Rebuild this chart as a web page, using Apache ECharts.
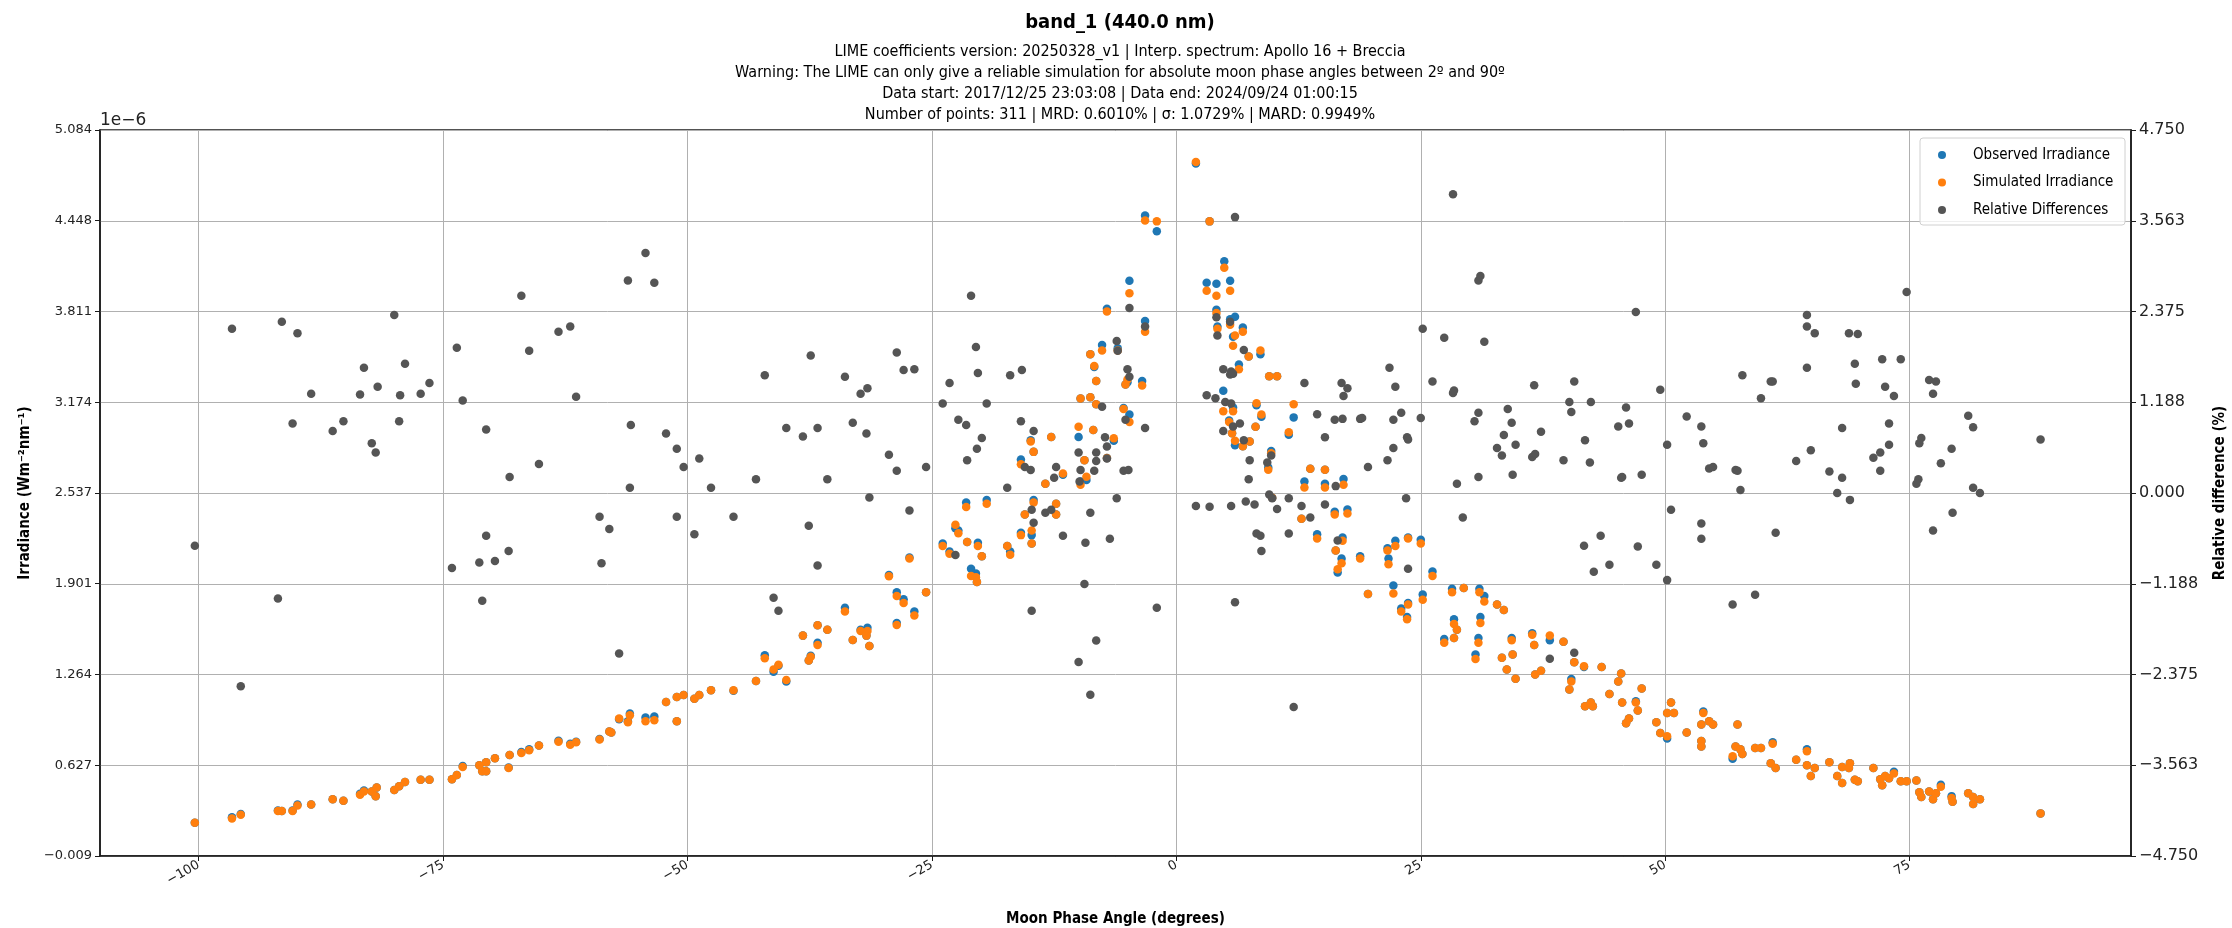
<!DOCTYPE html>
<html>
<head>
<meta charset="utf-8">
<script src="https://cdn.jsdelivr.net/npm/echarts@6/dist/echarts.min.js"></script>
<style>
  html, body { margin: 0; padding: 0; background: #fff; }
  #chart { width: 2232px; height: 928px; }
</style>
</head>
<body>
<div id="chart"></div>
<script>
// irradiance points (x1e-6 W m-2 nm-1)
var phaseAngle = [
  -100.4, -96.6, -95.7, -91.9, -91.5, -90.4, -89.9, -88.5, -86.3, -85.2,
  -83.5, -83.1, -82.3, -81.9, -81.8, -80.0, -79.5, -78.9, -77.3, -76.4,
  -74.1, -73.6, -73.0, -71.3, -71.0, -70.6, -70.6, -69.7, -68.3, -68.2,
  -67.0, -66.2, -65.2, -63.2, -62.0, -61.4, -59.0, -58.0, -57.8, -57.0,
  -56.1, -55.9, -54.3, -53.4, -52.2, -51.1, -51.1, -50.4, -49.3, -48.8,
  -47.6, -45.3, -43.0, -42.1, -41.2, -40.7, -39.9, -38.2, -37.6, -37.4,
  -36.7, -36.7, -35.7, -33.9, -33.1, -32.3, -31.6, -31.7, -31.4, -29.4,
  -28.6, -28.6, -27.9, -26.8, -27.3, -25.6, -23.9, -23.2, -22.6, -22.3,
  -21.5, -21.4, -21.0, -20.5, -20.4, -20.3, -19.9, -19.4, -17.3, -17.0,
  -15.9, -15.5, -14.9, -14.8, -14.8, -14.6, -14.6, -15.9, -13.4, -12.8,
  -12.3, -12.3, -11.6, -10.0, -9.8, -9.8, -9.4, -9.2, -8.8, -8.8,
  -8.5, -8.4, -8.2, -8.2, -7.6, -7.1, -7.1, -6.4, -6.0, -4.8,
  -5.0, -4.8, -5.2, -5.4, -3.2, -2.0, -3.2, -3.5, 2.0, 3.4,
  3.1, 4.1, 4.9, 5.5, 4.1, 4.2, 5.5, 6.0, 6.8, 5.8,
  7.4, 6.4, 8.6, 9.5, 10.3, 4.8, 5.8, 5.4, 5.7, 6.0,
  6.8, 7.5, 8.1, 8.2, 8.7, 9.4, 9.7, 9.8, 11.5, 12.0,
  12.8, 13.1, 13.7, 14.4, 15.2, 15.2, 16.2, 16.3, 16.5, 16.9,
  17.0, 17.1, 17.5, 18.8, 19.6, 21.6, 21.7, 22.4, 22.2, 23.0,
  23.7, 23.6, 23.7, 25.0, 25.2, 26.2, 27.4, 28.2, 28.4, 28.4,
  28.7, 29.4, 31.0, 31.5, 31.1, 30.9, 30.6, 32.8, 33.5, 34.3,
  33.3, 34.4, 33.8, 34.7, 36.4, 36.6, 38.2, 36.7, 37.3, 39.6,
  40.7, 41.7, 43.5, 40.4, 40.2, 41.8, 42.4, 42.6, 44.3, 45.2,
  45.5, 45.6, 46.0, 46.3, 47.0, 47.2, 47.6, 49.1, 49.5, 50.2,
  50.2, 50.6, 50.9, 52.2, 53.7, 53.7, 53.7, 53.9, 54.5, 54.9,
  56.9, 57.4, 57.2, 57.7, 57.9, 59.2, 59.8, 61.0, 60.8, 61.3,
  63.4, 64.5, 64.5, 65.3, 64.9, 66.8, 67.6, 68.1, 68.1, 68.9,
  68.8, 69.4, 69.7, 71.3, 72.0, 72.2, 72.5, 72.9, 73.4, 74.1,
  74.7, 75.7, 76.0, 76.2, 77.0, 77.4, 77.7, 78.2, 79.3, 79.4,
  81.0, 81.5, 81.5, 82.2, 88.4
];
var observed = [
  0.225, 0.262, 0.285, 0.310, 0.307, 0.310, 0.352, 0.352, 0.389, 0.379,
  0.428, 0.450, 0.444, 0.411, 0.471, 0.454, 0.480, 0.510, 0.526, 0.526,
  0.530, 0.559, 0.622, 0.628, 0.585, 0.648, 0.585, 0.677, 0.612, 0.700,
  0.720, 0.740, 0.766, 0.800, 0.779, 0.792, 0.812, 0.864, 0.858, 0.950,
  0.936, 0.990, 0.962, 0.969, 1.071, 1.107, 0.936, 1.120, 1.094, 1.120,
  1.153, 1.150, 1.218, 1.399, 1.284, 1.325, 1.215, 1.537, 1.363, 1.395,
  1.609, 1.487, 1.579, 1.733, 1.507, 1.579, 1.592, 1.537, 1.464, 1.963,
  1.842, 1.625, 1.792, 1.707, 2.085, 1.842, 2.183, 2.127, 2.291, 2.275,
  2.471, 2.193, 2.006, 1.973, 1.914, 2.189, 2.094, 2.488, 2.166, 2.127,
  2.258, 2.386, 2.908, 2.242, 2.183, 2.826, 2.488, 2.773, 2.603, 2.931,
  2.462, 2.386, 2.665, 2.931, 3.200, 2.619, 2.767, 2.629, 3.511, 3.209,
  2.980, 3.422, 3.324, 3.160, 3.576, 3.830, 2.783, 2.904, 3.553, 4.026,
  3.314, 3.088, 3.298, 3.134, 4.485, 4.374, 3.744, 3.324, 4.849, 4.443,
  4.013, 4.006, 4.164, 4.026, 3.823, 3.705, 3.757, 3.774, 3.698, 3.633,
  3.495, 3.439, 3.511, 3.357, 3.357, 3.255, 3.137, 3.046, 2.957, 2.872,
  2.865, 2.898, 3.003, 3.153, 3.072, 2.717, 2.832, 2.504, 2.947, 3.068,
  2.357, 2.619, 2.708, 2.248, 2.603, 2.701, 2.406, 2.134, 1.979, 2.078,
  2.225, 2.635, 2.422, 2.094, 1.829, 2.150, 2.078, 2.202, 1.888, 1.727,
  1.766, 1.668, 2.225, 2.209, 1.825, 1.986, 1.514, 1.865, 1.651, 1.520,
  1.579, 1.871, 1.865, 1.815, 1.668, 1.520, 1.405, 1.756, 1.717, 1.520,
  1.382, 1.405, 1.300, 1.235, 1.553, 1.471, 1.504, 1.264, 1.290, 1.494,
  1.350, 1.317, 1.317, 1.232, 1.159, 1.041, 1.067, 1.041, 1.127, 1.215,
  1.271, 1.067, 0.923, 0.956, 1.077, 1.012, 1.166, 0.930, 0.854, 0.815,
  0.995, 1.067, 0.995, 0.858, 0.913, 0.798, 0.759, 1.005, 0.936, 0.913,
  0.674, 0.913, 0.759, 0.739, 0.707, 0.749, 0.749, 0.789, 0.641, 0.608,
  0.667, 0.739, 0.628, 0.608, 0.553, 0.648, 0.553, 0.503, 0.615, 0.641,
  0.608, 0.526, 0.516, 0.608, 0.530, 0.487, 0.553, 0.536, 0.582, 0.516,
  0.516, 0.520, 0.438, 0.405, 0.444, 0.389, 0.431, 0.490, 0.411, 0.372,
  0.431, 0.356, 0.405, 0.389, 0.290
];
var simulated = [
  0.225, 0.254, 0.280, 0.307, 0.307, 0.307, 0.346, 0.352, 0.389, 0.379,
  0.421, 0.444, 0.444, 0.411, 0.471, 0.454, 0.480, 0.510, 0.526, 0.526,
  0.530, 0.559, 0.615, 0.628, 0.585, 0.648, 0.585, 0.677, 0.608, 0.700,
  0.713, 0.733, 0.766, 0.792, 0.772, 0.789, 0.808, 0.864, 0.858, 0.956,
  0.930, 0.979, 0.936, 0.943, 1.071, 1.107, 0.936, 1.120, 1.094, 1.120,
  1.153, 1.153, 1.218, 1.379, 1.300, 1.333, 1.225, 1.537, 1.363, 1.389,
  1.609, 1.471, 1.579, 1.707, 1.507, 1.569, 1.569, 1.537, 1.464, 1.953,
  1.815, 1.612, 1.766, 1.678, 2.078, 1.842, 2.166, 2.111, 2.314, 2.255,
  2.439, 2.193, 1.956, 1.947, 1.914, 2.166, 2.094, 2.462, 2.166, 2.104,
  2.242, 2.386, 2.898, 2.275, 2.183, 2.826, 2.471, 2.740, 2.603, 2.931,
  2.462, 2.386, 2.675, 3.003, 3.200, 2.596, 2.767, 2.652, 3.511, 3.209,
  2.980, 3.429, 3.324, 3.160, 3.537, 3.810, 2.783, 2.921, 3.537, 3.938,
  3.334, 3.036, 3.298, 3.127, 4.449, 4.443, 3.669, 3.291, 4.859, 4.443,
  3.957, 3.921, 4.118, 3.957, 3.800, 3.690, 3.718, 3.642, 3.669, 3.570,
  3.495, 3.406, 3.537, 3.357, 3.357, 3.111, 3.111, 3.036, 2.957, 2.904,
  2.865, 2.898, 3.003, 3.167, 3.088, 2.701, 2.816, 2.504, 2.963, 3.160,
  2.357, 2.576, 2.708, 2.219, 2.576, 2.701, 2.386, 2.134, 2.002, 2.045,
  2.202, 2.596, 2.393, 2.078, 1.829, 2.134, 2.038, 2.166, 1.832, 1.707,
  1.756, 1.651, 2.219, 2.183, 1.789, 1.956, 1.487, 1.842, 1.619, 1.520,
  1.579, 1.871, 1.842, 1.776, 1.625, 1.487, 1.373, 1.756, 1.717, 1.504,
  1.382, 1.405, 1.300, 1.235, 1.543, 1.471, 1.537, 1.264, 1.290, 1.494,
  1.350, 1.323, 1.317, 1.215, 1.159, 1.041, 1.067, 1.041, 1.127, 1.215,
  1.271, 1.067, 0.923, 0.956, 1.067, 1.012, 1.166, 0.930, 0.854, 0.831,
  0.995, 1.067, 0.995, 0.858, 0.913, 0.798, 0.759, 0.995, 0.936, 0.913,
  0.690, 0.913, 0.759, 0.739, 0.707, 0.749, 0.749, 0.779, 0.641, 0.608,
  0.667, 0.726, 0.628, 0.608, 0.553, 0.648, 0.553, 0.503, 0.615, 0.641,
  0.608, 0.526, 0.516, 0.608, 0.530, 0.487, 0.553, 0.536, 0.569, 0.516,
  0.516, 0.520, 0.438, 0.405, 0.444, 0.389, 0.431, 0.477, 0.398, 0.372,
  0.431, 0.356, 0.405, 0.389, 0.290
];

// relative differences (%) on the right axis
var diffAngle = [
  -96.6, -91.5, -89.9, -88.5, -83.5, -90.4, -86.3, -85.2, -100.4, -91.9,
  -95.7, -83.1, -81.7, -80.0, -78.9, -79.4, -77.3, -76.4, -79.5, -82.3,
  -81.9, -73.6, -73.0, -70.6, -68.2, -65.2, -67.0, -66.2, -63.2, -62.0,
  -61.4, -59.0, -58.0, -58.8, -74.1, -71.3, -70.6, -69.7, -68.3, -71.0,
  -56.1, -54.3, -53.4, -55.8, -55.9, -52.2, -51.1, -50.4, -48.8, -47.6,
  -51.1, -49.3, -45.3, -57.0, -43.0, -42.1, -39.9, -38.2, -37.4, -36.7,
  -35.7, -37.6, -36.7, -41.2, -40.7, -33.9, -33.1, -32.3, -31.6, -31.7,
  -31.4, -29.4, -28.6, -28.6, -27.9, -26.8, -27.3, -25.6, -23.9, -23.2,
  -22.3, -21.5, -21.4, -21.0, -20.5, -20.3, -20.4, -19.9, -19.4, -22.6,
  -17.3, -17.0, -15.8, -15.9, -14.6, -15.5, -14.9, -14.8, -14.6, -13.4,
  -12.8, -12.3, -12.5, -11.6, -14.8, -10.0, -9.8, -9.9, -8.8, -9.3,
  -9.4, -8.2, -10.0, -8.8, -7.6, -7.3, -8.2, -8.2, -8.4, -7.1,
  -7.1, -6.8, -6.1, -6.0, -6.1, -4.8, -5.0, -4.8, -5.2, -5.4,
  -4.9, -3.2, -3.2, -2.0, 6.0, 3.1, 4.0, 4.2, 4.1, 4.8,
  5.5, 5.6, 5.8, 5.5, 5.0, 5.6, 4.8, 5.8, 6.5, 6.9,
  6.9, 7.5, 7.4, 2.0, 3.4, 5.6, 6.0, 7.1, 8.0, 8.2,
  8.6, 8.7, 9.3, 9.7, 9.5, 9.8, 10.3, 11.5, 11.5, 12.8,
  13.7, 13.1, 14.4, 15.2, 12.0, 15.2, 16.3, 16.5, 16.2, 17.0,
  16.9, 17.5, 17.1, 18.8, 28.3, 30.9, 31.1, 31.5, 25.2, 27.4,
  21.8, 22.4, 26.2, 28.3, 28.4, 19.0, 19.6, 21.6, 22.2, 22.2,
  23.0, 23.6, 23.7, 23.5, 25.0, 23.7, 28.7, 29.3, 30.5, 30.9,
  30.9, 33.9, 34.3, 33.5, 32.8, 33.3, 34.7, 34.4, 36.6, 37.3,
  36.4, 36.7, 38.2, 40.7, 40.2, 40.4, 42.4, 41.8, 42.3, 39.6,
  40.7, 41.7, 42.7, 43.4, 44.3, 47.0, 45.2, 46.0, 46.3, 45.5,
  45.6, 47.6, 47.2, 49.5, 49.1, 50.2, 50.6, 50.2, 52.2, 53.7,
  53.9, 54.5, 54.9, 53.7, 53.7, 56.9, 57.2, 57.4, 57.7, 57.9,
  59.2, 59.8, 60.8, 61.0, 61.3, 63.4, 64.5, 64.5, 65.3, 64.5,
  64.9, 66.8, 67.6, 68.1, 68.1, 68.9, 68.8, 69.4, 69.5, 69.7,
  74.7, 72.2, 74.1, 72.5, 73.4, 72.9, 72.9, 71.3, 72.0, 72.0,
  77.0, 77.7, 77.4, 76.2, 76.0, 75.9, 75.7, 77.4, 78.2, 79.3,
  79.4, 81.0, 81.5, 81.5, 82.2, 88.4
];
var relDiff = [
  2.15, 2.24, 2.09, 1.30, 1.29, 0.91, 0.81, 0.94, -0.69, -1.38,
  -2.53, 1.64, 1.39, 2.33, 1.69, 1.28, 1.30, 1.44, 0.94, 0.65,
  0.53, 1.90, 1.21, 0.83, 0.21, 0.38, 2.58, 1.86, 2.11, 2.18,
  1.26, -0.31, -0.47, -0.92, -0.98, -0.91, -0.56, -0.89, -0.76, -1.41,
  2.78, 3.14, 2.75, 0.89, 0.07, 0.78, 0.58, 0.34, 0.45, 0.07,
  -0.31, -0.54, -0.31, -2.10, 0.18, 1.54, 0.85, 0.74, 1.80, 0.85,
  0.18, -0.43, -0.95, -1.37, -1.54, 1.52, 0.92, 1.30, 1.37, 0.78,
  -0.06, 0.50, 0.29, 1.84, 1.61, 1.62, -0.23, 0.34, 1.17, 1.44,
  0.96, 0.89, 0.43, 2.58, 1.91, 1.57, 0.58, 0.72, 1.17, -0.81,
  0.07, 1.54, 1.61, 0.94, 0.81, 0.34, 0.30, -0.22, -0.39, -0.26,
  -0.22, 0.34, 0.20, -0.56, -1.54, 0.53, 0.30, 0.15, -0.26, -0.65,
  -1.19, -1.93, -2.21, -2.64, 1.13, 0.73, 0.53, 0.42, 0.29, 0.61,
  0.45, -0.60, 1.99, 1.86, -0.07, 2.42, 1.62, 1.52, 0.96, 0.29,
  0.30, 2.18, 0.85, -1.50, 3.61, 1.28, 1.24, 2.06, 2.30, 1.62,
  1.55, 1.59, 1.56, 2.24, 1.19, 1.17, 0.81, 0.87, 0.91, 1.87,
  0.69, 0.43, 0.18, -0.17, -0.18, -0.17, -1.43, -0.11, -0.15, -0.53,
  -0.56, -0.76, 0.40, 0.49, -0.02, -0.07, -0.21, -0.07, -0.53, -0.17,
  -0.32, 1.44, 1.03, 0.73, -2.80, -0.15, 0.09, -0.62, 0.96, 0.97,
  1.44, 1.37, 1.27, 0.97, 3.91, 2.78, 2.84, 1.98, 2.15, 2.03,
  1.64, 1.39, 1.46, 1.31, 1.34, 0.98, 0.34, 0.43, 0.59, 0.96,
  1.05, 0.73, 0.70, -0.07, 0.98, -0.99, 0.12, -0.32, 0.94, 1.05,
  0.21, 1.10, 0.92, 0.76, 0.59, 0.49, 0.63, 0.24, 1.41, 0.80,
  0.47, 0.51, -2.17, 1.46, 1.19, 1.06, 1.19, 0.69, 0.40, 0.43,
  -2.09, -0.69, -1.03, -0.56, -0.94, 2.37, 0.87, 1.12, 0.91, 0.20,
  0.21, 0.24, -0.70, 1.35, -0.94, 0.63, -0.22, -1.14, 1.00, 0.87,
  0.65, 0.32, 0.34, -0.40, -0.60, -1.46, 0.30, 0.29, 0.04, 1.54,
  -1.33, 1.24, 1.46, 1.46, -0.52, 0.42, 2.33, 2.18, 2.09, 1.64,
  0.56, 0.28, 0.00, 0.85, 0.20, -0.09, 2.09, 1.69, 1.43, 2.08,
  2.63, 1.75, 1.75, 1.39, 1.27, 0.91, 0.63, 0.46, 0.53, 0.29,
  1.48, 1.46, 1.30, 0.72, 0.65, 0.18, 0.12, -0.49, 0.39, 0.58,
  -0.26, 1.01, 0.86, 0.07, 0.00, 0.70
];

// tick labels
var xTicks = [-100, -75, -50, -25, 0, 25, 50, 75];
var irrTicks = [-0.009, 0.627, 1.264, 1.901, 2.537, 3.174, 3.811, 4.448, 5.084];
var diffTicks = [-4.75, -3.5625, -2.375, -1.1875, 0, 1.1875, 2.375, 3.5625, 4.75];

var condensed = "'DejaVu Sans Condensed', 'DejaVu Sans', sans-serif";
var plain = "'DejaVu Sans', sans-serif";

function fmt3(v) {
  var s = Math.abs(v).toFixed(3);
  return (v < 0 ? '\u2212' : '') + s;
}

var subLines = [
  'LIME coefficients version: 20250328_v1 | Interp. spectrum: Apollo 16 + Breccia',
  'Warning: The LIME can only give a reliable simulation for absolute moon phase angles between 2º and 90º',
  'Data start: 2017/12/25 23:03:08 | Data end: 2024/09/24 01:00:15',
  'Number of points: 311 | MRD: 0.6010% | σ: 1.0729% | MARD: 0.9949%'
];

var myChart = echarts.init(document.getElementById('chart'));
myChart.setOption({
  animation: false,
  backgroundColor: '#ffffff',
  title: {
    text: 'band_1 (440.0 nm)',
    subtext: subLines.join('\n'),
    left: 1115,
    top: 5,
    textAlign: 'center',
    itemGap: 5,
    textStyle: { fontFamily: condensed, fontWeight: 'bold', fontSize: 20, lineHeight: 26, color: '#000' },
    subtextStyle: { fontFamily: condensed, fontSize: 16, lineHeight: 21, color: '#000', align: 'center' }
  },
  legend: {
    orient: 'vertical',
    left: 1933,
    top: 141,
    itemWidth: 52,
    itemHeight: 8,
    itemGap: 9.5,
    icon: 'circle',
    z: 10,
    textStyle: { fontFamily: condensed, fontSize: 15, lineHeight: 18, color: '#000' },
    data: ['Observed Irradiance', 'Simulated Irradiance', 'Relative Differences']
  },
  grid: {
    left: 100,
    right: 101,
    top: 130,
    bottom: 72,
    outerBoundsMode: 'none',
    show: true,
    borderColor: '#1a1a1a',
    borderWidth: 1.5
  },
  xAxis: {
    type: 'value',
    min: -110.1,
    max: 97.65,
    name: 'Moon Phase Angle (degrees)',
    nameLocation: 'middle',
    nameGap: 56,
    nameTextStyle: { fontFamily: condensed, fontWeight: 'bold', fontSize: 15, color: '#000' },
    axisLine: { onZero: false, lineStyle: { color: '#1a1a1a', width: 1.5 } },
    axisTick: { customValues: xTicks, length: 5, lineStyle: { color: '#1a1a1a' } },
    axisLabel: {
      customValues: xTicks,
      rotate: 30,
      fontFamily: plain,
      fontSize: 13,
      color: '#222',
      margin: 8,
      formatter: function (v) { return (v < 0 ? '\u2212' : '') + Math.abs(v); }
    },
    splitLine: { show: true, lineStyle: { color: '#b0b0b0', width: 1 } }
  },
  yAxis: [
    {
      type: 'value',
      min: irrTicks[0],
      max: irrTicks[irrTicks.length - 1],
      name: 'Irradiance (Wm⁻²nm⁻¹)',
      nameLocation: 'middle',
      nameRotate: 90,
      nameGap: 65,
      nameTextStyle: { fontFamily: condensed, fontWeight: 'bold', fontSize: 15, color: '#000' },
      axisLine: { show: true, onZero: false, lineStyle: { color: '#1a1a1a', width: 1.5 } },
      axisTick: { show: true, customValues: irrTicks, length: 5, lineStyle: { color: '#1a1a1a' } },
      axisLabel: { customValues: irrTicks, fontFamily: plain, fontSize: 13, color: '#222', margin: 8, formatter: fmt3 },
      splitLine: { show: false }
    },
    {
      type: 'value',
      min: diffTicks[0],
      max: diffTicks[diffTicks.length - 1],
      position: 'right',
      name: 'Relative difference (%)',
      nameLocation: 'middle',
      nameRotate: 90,
      nameGap: 82,
      nameTextStyle: { fontFamily: condensed, fontWeight: 'bold', fontSize: 15, color: '#000' },
      axisLine: { show: true, onZero: false, lineStyle: { color: '#1a1a1a', width: 1.5 } },
      axisTick: { show: true, customValues: diffTicks, length: 5, lineStyle: { color: '#1a1a1a' } },
      axisLabel: { customValues: diffTicks, fontFamily: plain, fontSize: 16, color: '#222', margin: 8, formatter: fmt3 },
      splitLine: { show: true, lineStyle: { color: '#b0b0b0', width: 1 } }
    }
  ],
  graphic: [
    {
      type: 'text',
      left: 100,
      top: 112,
      style: { text: '1e\u22126', fontFamily: plain, fontSize: 17, fill: '#222' }
    },
    {
      type: 'rect',
      z: 3,
      shape: { x: 1920, y: 138, width: 205, height: 87, r: 3 },
      style: { fill: 'rgba(255,255,255,0.8)', stroke: '#d0d0d0', lineWidth: 1 }
    }
  ],
  series: [
    {
      name: 'Observed Irradiance',
      type: 'scatter',
      yAxisIndex: 0,
      symbolSize: 8.5,
      itemStyle: { color: '#1f77b4', opacity: 1 },
      data: phaseAngle.map(function (a, i) { return [a, observed[i]]; })
    },
    {
      name: 'Simulated Irradiance',
      type: 'scatter',
      yAxisIndex: 0,
      symbolSize: 8.5,
      itemStyle: { color: '#ff7f0e', opacity: 1 },
      data: phaseAngle.map(function (a, i) { return [a, simulated[i]]; })
    },
    {
      name: 'Relative Differences',
      type: 'scatter',
      yAxisIndex: 1,
      symbolSize: 8.5,
      itemStyle: { color: '#555555', opacity: 1 },
      data: diffAngle.map(function (a, i) { return [a, relDiff[i]]; })
    }
  ]
});
</script>
</body>
</html>
